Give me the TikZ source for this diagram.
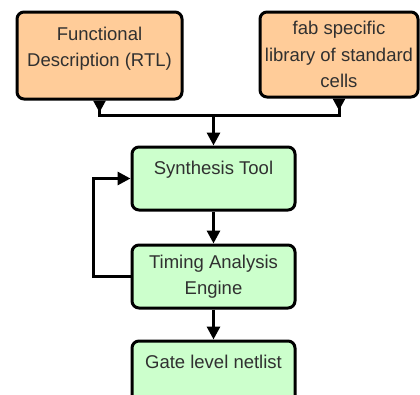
\documentclass[tikz,border=0pt]{standalone}
\usepackage{fontspec}
\setmainfont{Liberation Sans}
\usetikzlibrary{shapes,arrows.meta,calc,positioning}
\definecolor{peach}{HTML}{FFCC99}
\definecolor{mint}{HTML}{CCFFCC}
\definecolor{ink}{HTML}{303030}
\tikzstyle{block} = [draw, line width=3pt, rounded corners=7pt, align=center, inner sep=0pt, text=ink, font=\fontsize{18.5}{26.5}\selectfont]
\tikzstyle{source} = [block, fill=peach]
\tikzstyle{tool} = [block, fill=mint, minimum width=163pt, minimum height=63pt]
\tikzstyle{raised} = [text depth=21pt]
\tikzstyle{arrow} = [draw, line width=3pt, -{Triangle[length=13pt,width=13pt]}]
\tikzstyle{feed} = [draw, line width=3pt, {Triangle[reversed,length=12pt,width=12pt]}-]

\begin{document}
\begin{tikzpicture}[
      x=1pt, y=-1pt,
      node distance = 32pt
    ]
      \useasboundingbox (0,0) rectangle (420,394);
      \node (func)    [source, text depth=17pt, minimum width=165pt, minimum height=87pt] at (99.5,55.5) {Functional\\Description (RTL)};
      \node (lib)     [source, minimum width=158pt, minimum height=85pt] at (339,54.5)  {fab specific\\library of standard\\cells};
      \node (synth)   [tool, raised] at (213.5,178.5)  {Synthesis Tool};
      \node (timing)  [tool, below=of synth]   {Timing Analysis\\Engine};
      \node (netlist) [tool, raised, below=30pt of timing] {Gate level netlist};
      \coordinate (join) at (213.5,115);
      \draw[feed]  (func.south) |- (join);
      \draw[feed]  (lib.south)  |- (join);
      \draw[arrow] (join)       -- (synth);
      \draw[arrow] (synth)      -- (timing);
      \draw[arrow] (timing)     -- (netlist);
      \draw[arrow] (timing.west) -- ++(-37,0) |- (synth.west);
    \end{tikzpicture}
\end{document}
